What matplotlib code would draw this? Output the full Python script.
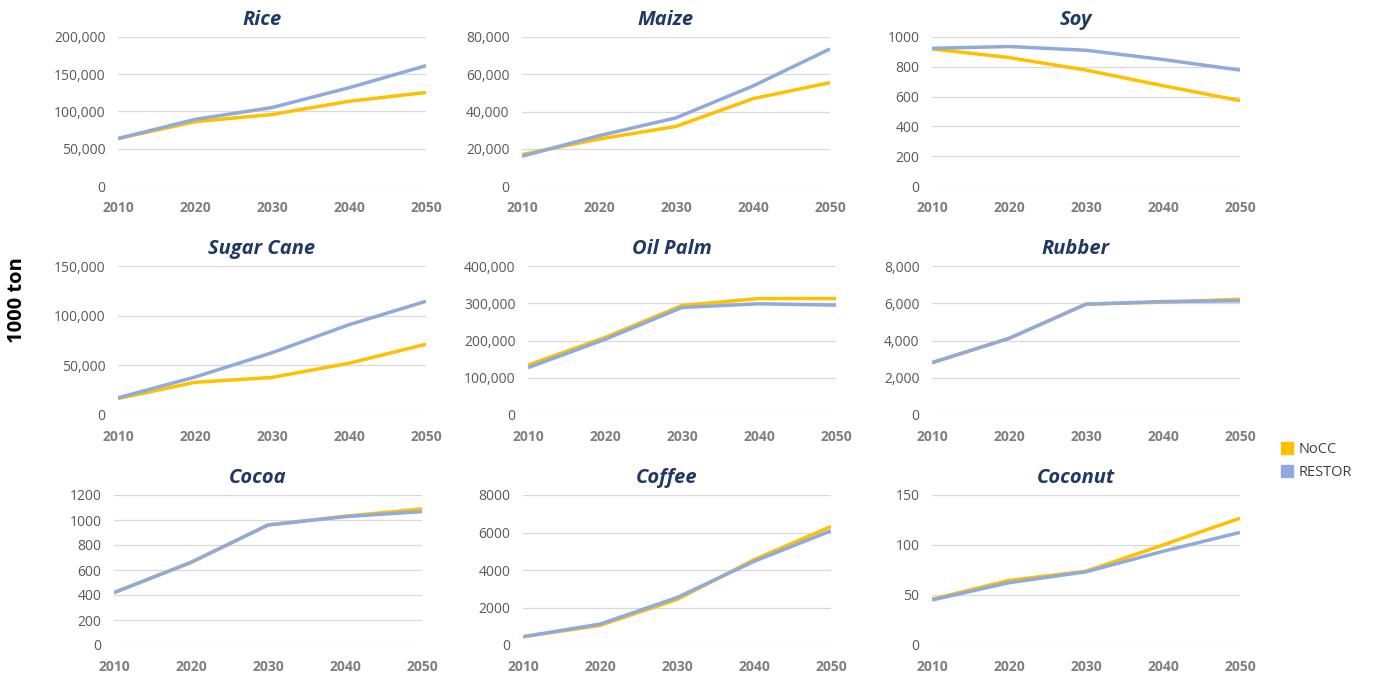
import matplotlib
matplotlib.use("Agg")
import matplotlib.pyplot as plt
from matplotlib.ticker import FuncFormatter, MultipleLocator
from matplotlib.lines import Line2D

years = [2010, 2020, 2030, 2040, 2050]

crops = ["Rice", "Maize", "Soy", "Sugar Cane", "Oil Palm", "Rubber", "Cocoa", "Coffee", "Coconut"]

rice_nocc = [63700, 86300, 96000, 113700, 125500]
rice_restor = [63700, 89400, 105300, 131900, 161500]
maize_nocc = [16900, 25200, 32000, 46900, 55500]
maize_restor = [16000, 27000, 36600, 53700, 73600]
soy_nocc = [920, 862, 778, 673, 573]
soy_restor = [924, 936, 911, 849, 778]
sugar_nocc = [16600, 32900, 37800, 52100, 71300]
sugar_restor = [17300, 38200, 62700, 90900, 114500]
palm_nocc = [134000, 208000, 294000, 312600, 312600]
palm_restor = [127000, 203000, 288700, 298500, 295000]
rubber_nocc = [2810, 4115, 5950, 6060, 6215]
rubber_restor = [2810, 4115, 5950, 6090, 6130]
cocoa_nocc = [419, 661, 960, 1030, 1088]
cocoa_restor = [419, 661, 960, 1027, 1067]
coffee_nocc = [440, 1045, 2425, 4550, 6320]
coffee_restor = [442, 1115, 2530, 4460, 6090]
coconut_nocc = [45.7, 64.6, 73.8, 100.0, 126.8]
coconut_restor = [45.0, 62.3, 73.2, 93.7, 112.6]

nocc = [rice_nocc, maize_nocc, soy_nocc, sugar_nocc, palm_nocc, rubber_nocc,
        cocoa_nocc, coffee_nocc, coconut_nocc]
restor = [rice_restor, maize_restor, soy_restor, sugar_restor, palm_restor, rubber_restor,
          cocoa_restor, coffee_restor, coconut_restor]

y_max = [200000, 80000, 1000, 150000, 400000, 8000, 1200, 8000, 150]
y_step = [50000, 20000, 200, 50000, 100000, 2000, 200, 2000, 50]
use_comma = [True, True, False, True, True, True, False, False, False]

series_names = ["NoCC", "RESTOR"]
c_nocc = "#FFC000"
c_restor = "#8FAADC"

W, H = 1374, 673
fig = plt.figure(figsize=(W / 100, H / 100), dpi=100)

lefts = [[118, 522, 932], [118, 528, 932], [114, 523, 932]]
width_px = 308
tops = [37, 266, 495]
bottoms = [186, 415, 645]

title_font = dict(family="Open Sans", weight="bold", style="italic", color="#1F3864", size=14.5)
tick_color = "#595959"

for i, crop in enumerate(crops):
    r, c = divmod(i, 3)
    l = lefts[r][c]
    t = tops[r]
    b = bottoms[r]
    ax = fig.add_axes([l / W, 1 - b / H, width_px / W, (b - t) / H])
    ax.plot(years, nocc[i], color=c_nocc, lw=2.5, solid_capstyle="butt", zorder=3)
    ax.plot(years, restor[i], color=c_restor, lw=2.5, solid_capstyle="butt", zorder=4)
    ax.set_xlim(2010, 2050)
    ax.set_ylim(0, y_max[i])
    ax.yaxis.set_major_locator(MultipleLocator(y_step[i]))
    ax.set_xticks(years)
    if use_comma[i]:
        ax.yaxis.set_major_formatter(FuncFormatter(lambda v, p: f"{int(round(v)):,}"))
    else:
        ax.yaxis.set_major_formatter(FuncFormatter(lambda v, p: f"{int(round(v))}"))
    ax.grid(axis="y", color="#D9D9D9", lw=0.9)
    ax.set_axisbelow(True)
    for s in ax.spines.values():
        s.set_visible(False)
    ax.tick_params(axis="both", length=0)
    ax.tick_params(axis="y", pad=9, labelsize=10, labelcolor=tick_color)
    ax.tick_params(axis="x", pad=11, labelsize=10, labelcolor="#7F7F7F")
    for lab in ax.get_yticklabels():
        lab.set_fontfamily("Open Sans")
    for lab in ax.get_xticklabels():
        lab.set_fontfamily("Open Sans")
        lab.set_fontweight("bold")
    ax.set_facecolor("none")
    cx = l + width_px / 2 - 10
    fig.text(cx / W, 1 - (t - 17) / H, crop, ha="center", va="center", **title_font)

fig.text(17 / W, 1 - 300 / H, "1000 ton", rotation=90, ha="center", va="center",
         family="Open Sans", weight="bold", size=14.5, color="black")

handles = [Line2D([], [], marker="s", linestyle="none", markersize=8,
                  markerfacecolor=col, markeredgecolor=col) for col in (c_nocc, c_restor)]
leg = fig.legend(handles, series_names, loc="center left",
                 bbox_to_anchor=(1268 / W, 1 - 461 / H), frameon=False,
                 handlelength=0.8, handletextpad=0.4, labelspacing=0.6,
                 prop=dict(family="Open Sans", size=10.5))
for txt in leg.get_texts():
    txt.set_color("#404040")

fig.savefig("out.png", dpi=100)
